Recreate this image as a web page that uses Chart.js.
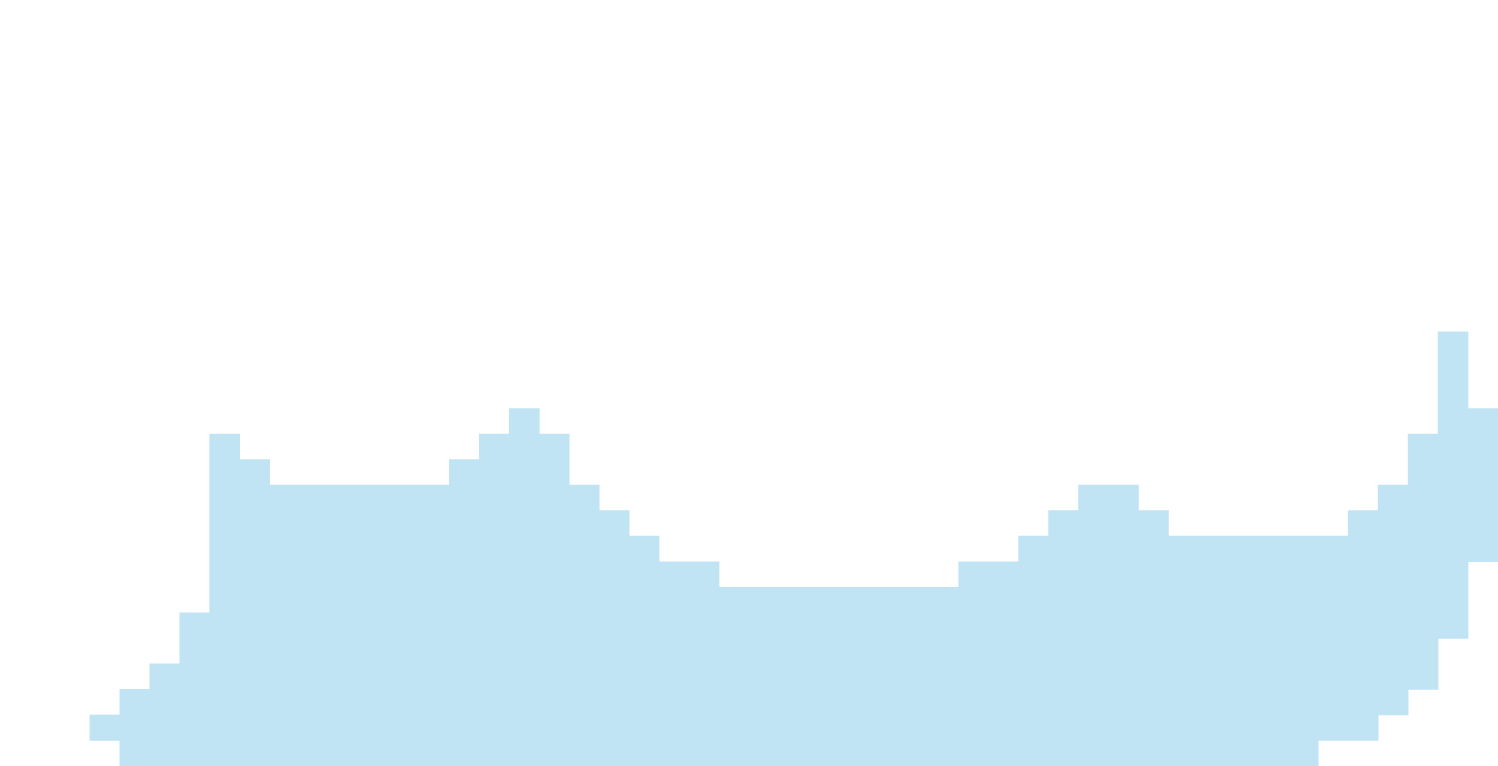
<!DOCTYPE html>
<html lang="en">
<head>
    <meta charset="UTF-8">
    <title>Step band</title>
    <script src="https://cdn.jsdelivr.net/npm/chart.js"></script>
    <style>
        html, body {
            margin: 0;
            padding: 0;
            width: 100%;
            height: 100%;
            background: #ffffff;
            overflow: hidden;
        }
        #chart-box {
            position: absolute;
            left: 0;
            top: 0;
            width: 1498px;
            height: 766px;
        }
    </style>
</head>
<body>

<div id="chart-box">
    <canvas id="bandChart"></canvas>
</div>

<script>
// one entry per column, 50 columns
const categories = Array.from({ length: 50 }, (_, i) => 'C' + (i + 1));

const lowValues = [
    null, null, null, 1, 0, 0, 0, 0, 0, 0,
    0, 0, 0, 0, 0, 0, 0, 0, 0, 0,
    0, 0, 0, 0, 0, 0, 0, 0, 0, 0,
    0, 0, 0, 0, 0, 0, 0, 0, 0, 0,
    0, 0, 0, 0, 1, 1, 2, 3, 5, 8
];

const highValues = [
    null, null, null, 2, 3, 4, 6, 13, 12, 11,
    11, 11, 11, 11, 11, 12, 13, 14, 13, 11,
    10, 9, 8, 8, 7, 7, 7, 7, 7, 7,
    7, 7, 8, 8, 9, 10, 11, 11, 10, 9,
    9, 9, 9, 9, 9, 10, 11, 13, 17, 14
];

const bandData = lowValues.map((lo, i) => lo === null ? null : [lo, highValues[i]]);

var ctx = document.getElementById('bandChart').getContext('2d');
new Chart(ctx, {
    type: 'bar',
    data: {
        labels: categories,
        datasets: [{
            data: bandData,
            backgroundColor: '#c1e4f4',
            borderWidth: 0,
            barPercentage: 1.0,
            categoryPercentage: 1.0
        }]
    },
    options: {
        responsive: true,
        maintainAspectRatio: false,
        animation: false,
        layout: { padding: 0 },
        plugins: {
            legend: { display: false },
            tooltip: { enabled: false }
        },
        scales: {
            x: { display: false },
            y: { display: false, min: 0, max: 30 }
        }
    }
});
</script>

</body>
</html>
